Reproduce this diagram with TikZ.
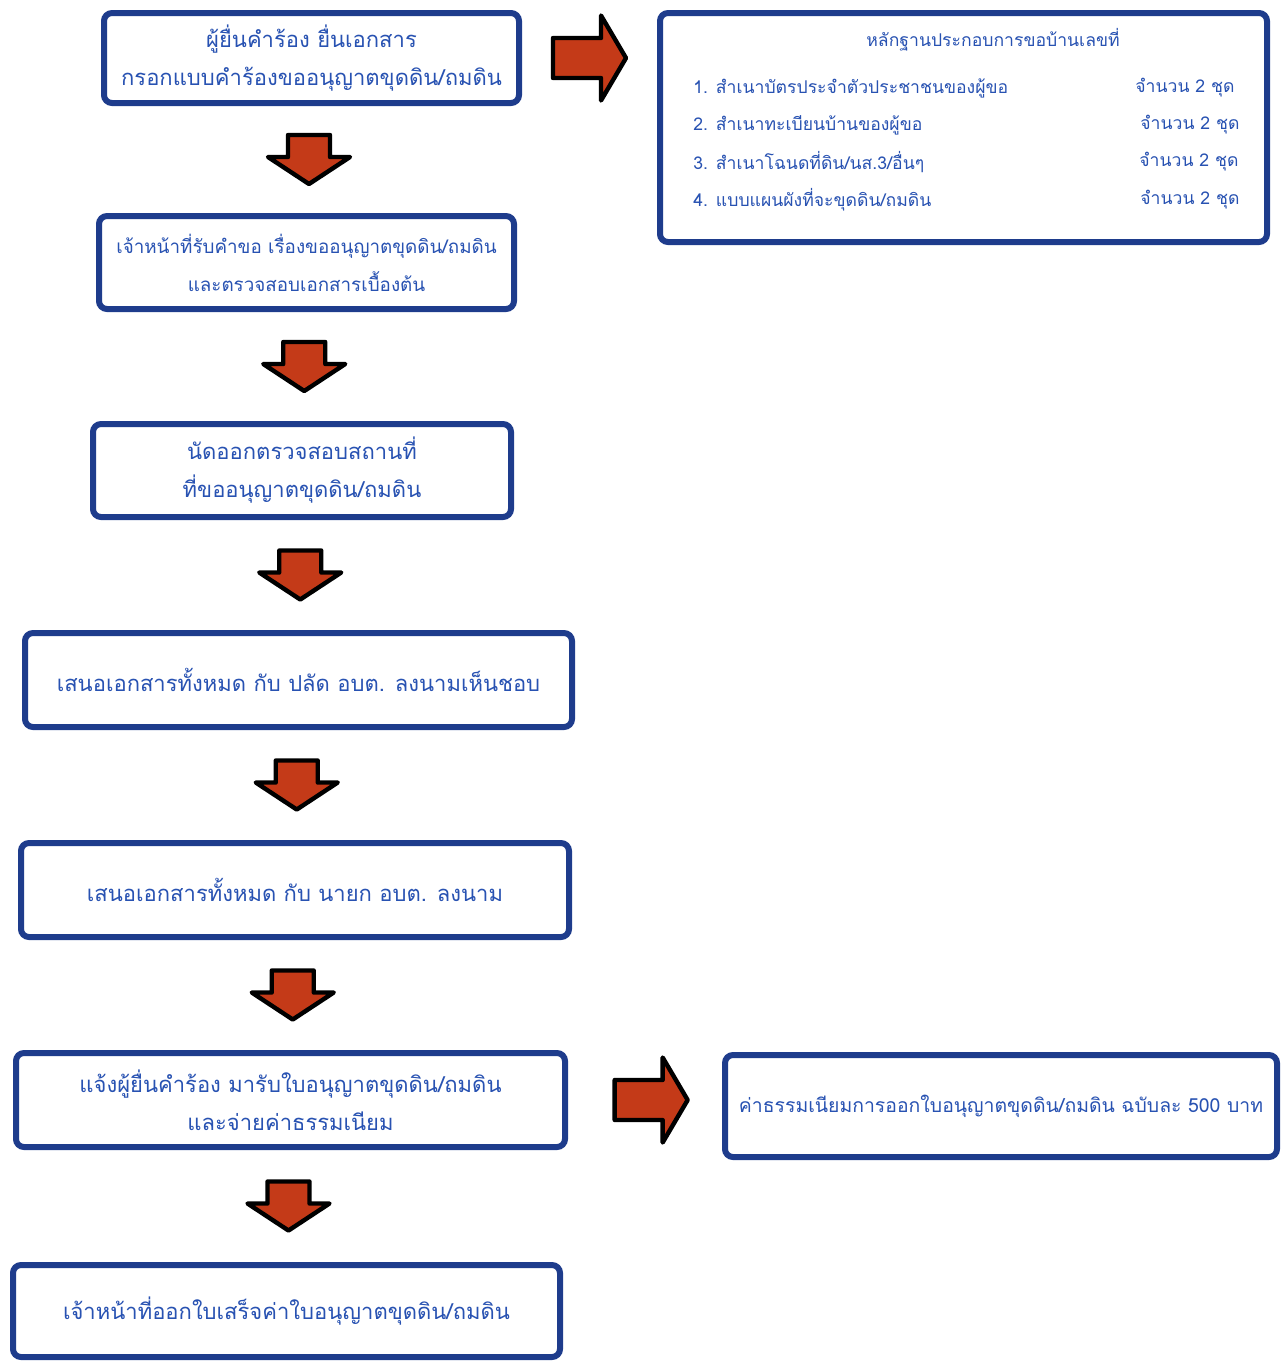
\documentclass[tikz,border=0pt]{standalone}
\usepackage{fontspec}
\usepackage{tikz}
\usetikzlibrary{calc}
\newfontfamily\thaifont[Script=Thai]{Loma}
\definecolor{boxblue}{RGB}{30,60,140}
\definecolor{textblue}{RGB}{40,82,178}
\definecolor{arrowred}{RGB}{196,58,24}

\tikzset{
	arrowline/.style={draw=black, fill=arrowred, line width=2.2pt, line join=round},
	pics/downarr/.style={code={
		\draw[arrowline] (-21,-24.5) -- (21,-24.5) -- (21,-2.5) -- (41,-2.5) -- (0,24.5) -- (-41,-2.5) -- (-21,-2.5) -- cycle;
	}},
	pics/rightarr/.style={code={
		\draw[arrowline] (-36.5,-20) -- (11.5,-20) -- (11.5,-42.5) -- (36.5,0) -- (11.5,42.5) -- (11.5,20) -- (-36.5,20) -- cycle;
	}}
}

\begin{document}
\begin{tikzpicture}[
		x=0.5pt, y=-0.5pt,
		stepbox/.style={draw=boxblue, line width=3pt, rounded corners=4pt, fill=white, text=textblue, align=center, inner sep=0pt, font=\thaifont\fontsize{11}{19}\selectfont},
		smallstep/.style={stepbox, font=\thaifont\fontsize{9.4}{19}\selectfont},
		listtext/.style={text=textblue, inner sep=0pt, font=\thaifont\fontsize{8.8}{12}\selectfont},
		feetext/.style={text=textblue, inner sep=0pt, font=\thaifont\fontsize{9.7}{12}\selectfont}
		]
		\useasboundingbox (0,0) rectangle (1281,1362);
		
		\node[stepbox, minimum width=207.5pt, minimum height=45pt] (b1) at (311.5,58) {ผู้ยื่นคำร้อง ยื่นเอกสาร\\กรอกแบบคำร้องขออนุญาตขุดดิน/ถมดิน};
		\node[smallstep, minimum width=207.5pt, minimum height=46.5pt] (b2) at (306.5,262.5) {เจ้าหน้าที่รับคำขอ เรื่องขออนุญาตขุดดิน/ถมดิน\\และตรวจสอบเอกสารเบื้องต้น};
		\node[stepbox, minimum width=209pt, minimum height=46.5pt] (b3) at (302,470.5) {นัดออกตรวจสอบสถานที่\\ที่ขออนุญาตขุดดิน/ถมดิน};
		\node[stepbox, minimum width=273.5pt, minimum height=47pt] (b4) at (298.5,680) {เสนอเอกสารทั้งหมด กับ ปลัด อบต. ลงนามเห็นชอบ};
		\node[stepbox, minimum width=274pt, minimum height=47pt] (b5) at (295,890) {เสนอเอกสารทั้งหมด กับ นายก อบต. ลงนาม};
		\node[stepbox, minimum width=274.5pt, minimum height=47pt] (b6) at (290.5,1100) {แจ้งผู้ยื่นคำร้อง มารับใบอนุญาตขุดดิน/ถมดิน\\และจ่ายค่าธรรมเนียม};
		\node[stepbox, minimum width=273.5pt, minimum height=46pt] (b7) at (286.5,1311) {เจ้าหน้าที่ออกใบเสร็จค่าใบอนุญาตขุดดิน/ถมดิน};
		
		\node[stepbox, minimum width=303.5pt, minimum height=114.5pt] (doc) at (963.5,127.5) {};
		\node[listtext] (d0) at (993,40) {หลักฐานประกอบการขอบ้านเลขที่};
		\node[listtext, anchor=west] (d1) at (693,88) {1. สำเนาบัตรประจำตัวประชาชนของผู้ขอ};
		\node[listtext, anchor=west] (d2) at (693,125) {2. สำเนาทะเบียนบ้านของผู้ขอ};
		\node[listtext, anchor=west] (d3) at (693,162) {3. สำเนาโฉนดที่ดิน/นส.3/อื่นๆ};
		\node[listtext, anchor=west] (d4) at (693,200) {4. แบบแผนผังที่จะขุดดิน/ถมดิน};
		\node[listtext, anchor=west] (n1) at (1135,88) {จำนวน 2 ชุด};
		\node[listtext, anchor=west] (n2) at (1140,125) {จำนวน 2 ชุด};
		\node[listtext, anchor=west] (n3) at (1139,162) {จำนวน 2 ชุด};
		\node[listtext, anchor=west] (n4) at (1140,200) {จำนวน 2 ชุด};
		
		\node[stepbox, minimum width=276pt, minimum height=51pt] (fee) at (1001,1106) {};
		\node[feetext] (f1) at (fee) {ค่าธรรมเนียมการออกใบอนุญาตขุดดิน/ถมดิน ฉบับละ 500 บาท};
		
		\pic at ($(b1.south)!0.5!(b2.north)$) {downarr};
		\pic at ($(b2.south)!0.5!(b3.north)$) {downarr};
		\pic at ($(b3.south)!0.5!(b4.north)$) {downarr};
		\pic at ($(b4.south)!0.5!(b5.north)$) {downarr};
		\pic at ($(b5.south)!0.5!(b6.north)$) {downarr};
		\pic at ($(b6.south)!0.5!(b7.north)$) {downarr};
		\pic at ($(b1.east)!0.5!(doc.west |- b1.east)$) {rightarr};
		\pic at ($(b6.east)!0.54!(fee.west |- b6.east)$) {rightarr};
		
\end{tikzpicture}
\end{document}
